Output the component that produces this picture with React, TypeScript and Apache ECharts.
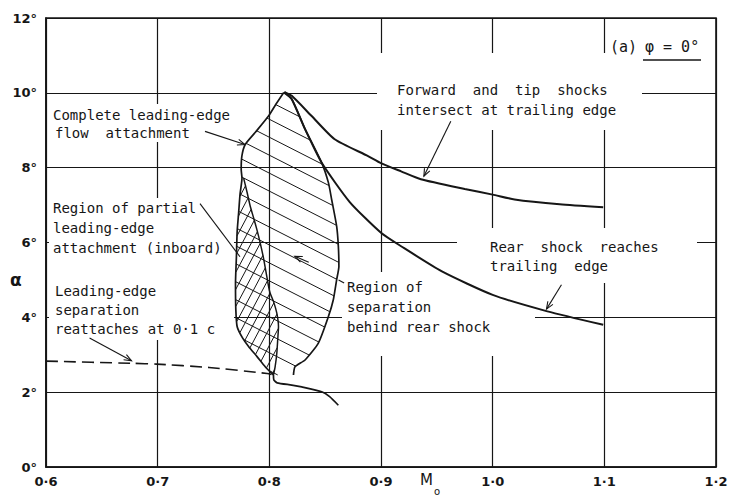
import React, { useEffect, useRef } from 'react';
import * as echarts from 'echarts';

// ---- data (M0, alpha in degrees) ----
const fwdShockX = [0.8135, 0.8201, 0.8379, 0.8585, 0.8884, 0.9, 0.918, 0.9357, 0.975, 1.0, 1.0196, 1.06, 1.099];
const fwdShockY = [10.02, 9.92, 9.38, 8.76, 8.31, 8.12, 7.9, 7.69, 7.43, 7.28, 7.15, 7.02, 6.94];

const rearShockX = [0.8135, 0.8201, 0.832, 0.8469, 0.872, 0.9, 0.918, 0.955, 1.0, 1.049, 1.099];
const rearShockY = [10.02, 9.83, 9.03, 8.13, 7.08, 6.26, 5.9, 5.22, 4.6, 4.16, 3.8];

const leftBoundX = [0.8129, 0.806, 0.7993, 0.7873, 0.7784, 0.7754, 0.7748, 0.7755, 0.7738, 0.7725, 0.7712, 0.7705, 0.7697, 0.77, 0.7712, 0.776, 0.7814, 0.789, 0.7963, 0.8037];
const leftBoundY = [10.01, 9.7, 9.38, 8.94, 8.62, 8.31, 7.95, 7.72, 7.3, 6.79, 6.3, 5.6, 4.9, 4.2, 3.75, 3.45, 3.22, 2.95, 2.68, 2.46];

const rightBoundX = [0.8129, 0.8201, 0.832, 0.8469, 0.8529, 0.8558, 0.8603, 0.8618, 0.8623, 0.8603, 0.8573, 0.8529, 0.8439, 0.832, 0.823, 0.8216];
const rightBoundY = [10.01, 9.83, 9.03, 8.13, 7.6, 7.15, 6.43, 5.9, 5.36, 5.01, 4.47, 4.02, 3.31, 2.86, 2.68, 2.46];

const crossRightX = [0.777, 0.78, 0.7829, 0.786, 0.7888, 0.7918, 0.795, 0.7993, 0.8007, 0.804, 0.8067, 0.8082, 0.8075, 0.8067, 0.8052, 0.8037];
const crossRightY = [7.72, 7.35, 6.97, 6.65, 6.35, 5.99, 5.55, 4.83, 4.65, 4.4, 4.11, 3.75, 3.4, 3.04, 2.68, 2.46];

const reattachX = [0.6, 0.678, 0.699, 0.746, 0.798, 0.802];
const reattachY = [2.83, 2.77, 2.75, 2.66, 2.5, 2.47];

const tailX = [0.8037, 0.804, 0.807, 0.8201, 0.829, 0.8469, 0.854, 0.8618];
const tailY = [2.46, 2.33, 2.25, 2.19, 2.14, 2.01, 1.88, 1.65];

// leader arrows (data coordinates)
const arrows = [
  { from: [0.7424, 8.97], to: [0.7781, 8.62], head: true },
  { from: [0.7379, 7.04], to: [0.7737, 5.62], head: false },
  { from: [0.9625, 9.24], to: [0.9384, 7.77], head: true },
  { from: [1.0616, 4.87], to: [1.0482, 4.22], head: true },
  { from: [0.639, 3.45], to: [0.6766, 2.84], head: true },
  { from: [0.8353, 5.47], to: [0.8228, 5.63], head: true },
  { from: [0.862, 5.0], to: [0.867, 4.92], head: false },
];

const pts = (xs: number[], ys: number[]) => xs.map((x, i) => [x, ys[i]]);

function hatch(poly: number[][], angleDeg: number, spacing: number) {
  const a = (angleDeg * Math.PI) / 180;
  const d = [Math.cos(a), Math.sin(a)];
  const n = [-Math.sin(a), Math.cos(a)];
  const proj = poly.map((p) => p[0] * n[0] + p[1] * n[1]);
  const mn = Math.min(...proj);
  const mx = Math.max(...proj);
  const segs: number[][][] = [];
  for (let c = Math.ceil(mn / spacing) * spacing; c <= mx; c += spacing) {
    const hits: number[][] = [];
    for (let i = 0; i < poly.length; i++) {
      const j = (i + 1) % poly.length;
      const pa = proj[i] - c;
      const pb = proj[j] - c;
      if ((pa < 0 && pb >= 0) || (pa >= 0 && pb < 0)) {
        const t = pa / (pa - pb);
        const x = poly[i][0] + t * (poly[j][0] - poly[i][0]);
        const y = poly[i][1] + t * (poly[j][1] - poly[i][1]);
        hits.push([x, y, x * d[0] + y * d[1]]);
      }
    }
    hits.sort((p, q) => p[2] - q[2]);
    for (let k = 0; k + 1 < hits.length; k += 2) segs.push([hits[k], hits[k + 1]]);
  }
  return segs;
}

const mainPoly = [...pts(leftBoundX, leftBoundY), ...pts(rightBoundX, rightBoundY).reverse().slice(0, -1)];
const crossPoly = [
  ...pts(leftBoundX, leftBoundY).filter((p) => p[1] <= 7.75),
  ...pts(crossRightX, crossRightY).reverse(),
];

const INK = '#161616';

const hatchSeries = (poly: number[][], angle: number, spacing: number) => ({
  type: 'custom',
  coordinateSystem: 'cartesian2d',
  silent: true,
  z: 3,
  data: [[0.8, 5]],
  renderItem: (_params: any, api: any) => {
    const pp = poly.map((p) => api.coord(p));
    const segs = hatch(pp, angle, spacing);
    return {
      type: 'group',
      children: segs.map((s) => ({
        type: 'line',
        shape: { x1: s[0][0], y1: s[0][1], x2: s[1][0], y2: s[1][1] },
        style: { stroke: INK, lineWidth: 1 },
      })),
    };
  },
});

const lineSeries = (xs: number[], ys: number[], width: number, dashed = false) => ({
  type: 'line',
  data: pts(xs, ys),
  symbol: 'none',
  smooth: 0.2,
  silent: true,
  z: 4,
  lineStyle: { color: INK, width, type: dashed ? [12, 6] : 'solid' },
});

const FONT = 'DejaVu Sans Mono';
const txt = (t: string, x: number, y: number, size = 14) => ({
  type: 'text',
  x,
  y,
  z: 10,
  style: {
    text: t,
    fontSize: size,
    fontFamily: FONT,
    fill: INK,
    verticalAlign: 'middle',
    textVerticalAlign: 'middle',
  },
});
const whiteRect = (x: number, y: number, w: number, h: number) => ({
  type: 'rect',
  z: 1,
  shape: { x, y, width: w, height: h },
  style: { fill: '#ffffff' },
});

const option: any = {
  animation: false,
  backgroundColor: '#ffffff',
  grid: { left: 46, right: 24, top: 18, bottom: 33, show: true, borderColor: INK, borderWidth: 1.6 },
  xAxis: {
    type: 'value',
    min: 0.6,
    max: 1.2,
    interval: 0.1,
    axisLine: { show: true, lineStyle: { color: INK, width: 1.6 } },
    axisTick: { show: false },
    splitLine: { show: true, lineStyle: { color: INK, width: 1.2 } },
    axisLabel: {
      formatter: (v: number) => v.toFixed(1).replace('.', '·'),
      fontSize: 13,
      fontWeight: 'bold',
      fontFamily: 'DejaVu Sans',
      color: INK,
      margin: 8,
    },
  },
  yAxis: {
    type: 'value',
    min: 0,
    max: 12,
    interval: 2,
    axisLine: { show: true, lineStyle: { color: INK, width: 1.6 } },
    axisTick: { show: false },
    splitLine: { show: true, lineStyle: { color: INK, width: 1.2 } },
    axisLabel: {
      formatter: (v: number) => `${v}°`,
      fontSize: 13,
      fontWeight: 'bold',
      fontFamily: 'DejaVu Sans',
      color: INK,
      margin: 9,
    },
  },
  graphic: [
    whiteRect(49, 104, 188, 38),
    whiteRect(49, 198, 185, 142),
    whiteRect(342, 272, 193, 84),
    whiteRect(377, 53, 265, 77),
    whiteRect(457, 228, 240, 55),
    whiteRect(606, 36, 98, 28),
    txt('Complete leading-edge', 53, 115),
    txt('flow  attachment', 55, 133),
    txt('Region of partial', 53, 208),
    txt('leading-edge', 53, 228),
    txt('attachment (inboard)', 53, 248),
    txt('Leading-edge', 55, 291),
    txt('separation', 55, 310),
    txt('reattaches at 0·1 c', 55, 329),
    txt('Region of', 347, 287),
    txt('separation', 347, 307),
    txt('behind rear shock', 347, 327),
    txt('Forward  and  tip  shocks', 397, 90),
    txt('intersect at trailing edge', 397, 110),
    txt('Rear  shock  reaches', 490, 247),
    txt('trailing  edge', 490, 266),
    txt('(a)', 610, 47, 15),
    txt('φ = 0°', 645, 47, 15),
    {
      type: 'line',
      z: 10,
      shape: { x1: 643, y1: 60, x2: 701, y2: 60 },
      style: { stroke: INK, lineWidth: 1.5 },
    },
    {
      type: 'text',
      x: 10,
      y: 280,
      z: 10,
      style: { text: 'α', fontSize: 17, fontFamily: 'DejaVu Sans', fontWeight: 'bold', fill: INK, verticalAlign: 'middle', textVerticalAlign: 'middle' },
    },
    {
      type: 'text',
      x: 420,
      y: 480,
      z: 10,
      style: { text: 'M', fontSize: 15, fontFamily: 'DejaVu Sans', fill: INK, verticalAlign: 'middle', textVerticalAlign: 'middle' },
    },
    {
      type: 'text',
      x: 434,
      y: 491,
      z: 10,
      style: { text: 'o', fontSize: 10, fontFamily: 'DejaVu Sans', fill: INK, verticalAlign: 'middle', textVerticalAlign: 'middle' },
    },
  ],
  series: [
    hatchSeries(mainPoly, 27, 16),
    hatchSeries(crossPoly, -62, 8),
    lineSeries(leftBoundX, leftBoundY, 1.7),
    lineSeries(rightBoundX, rightBoundY, 1.7),
    lineSeries(crossRightX, crossRightY, 1.5),
    lineSeries(fwdShockX, fwdShockY, 2),
    lineSeries(rearShockX, rearShockY, 2),
    lineSeries(reattachX, reattachY, 1.6, true),
    lineSeries(tailX, tailY, 1.7),
    {
      type: 'custom',
      coordinateSystem: 'cartesian2d',
      silent: true,
      z: 5,
      data: arrows.map((a) => [a.from[0], a.from[1]]),
      renderItem: (params: any, api: any) => {
        const a = arrows[params.dataIndex];
        const p0 = api.coord(a.from);
        const p1 = api.coord(a.to);
        const children: any[] = [
          { type: 'line', shape: { x1: p0[0], y1: p0[1], x2: p1[0], y2: p1[1] }, style: { stroke: INK, lineWidth: 1.1 } },
        ];
        if (a.head) {
          const ang = Math.atan2(p1[1] - p0[1], p1[0] - p0[0]);
          const L = 8;
          const w = 0.38;
          children.push({
            type: 'polyline',
            shape: {
              points: [
                [p1[0] - L * Math.cos(ang - w), p1[1] - L * Math.sin(ang - w)],
                [p1[0], p1[1]],
                [p1[0] - L * Math.cos(ang + w), p1[1] - L * Math.sin(ang + w)],
              ],
            },
            style: { stroke: INK, fill: 'none', lineWidth: 1.1 },
          });
        }
        return { type: 'group', children };
      },
    },
  ],
};

export default function App() {
  const ref = useRef<HTMLDivElement>(null);
  useEffect(() => {
    document.body.style.margin = '0';
    const chart = echarts.init(ref.current as HTMLDivElement, null, { renderer: 'svg' });
    chart.setOption(option);
    return () => chart.dispose();
  }, []);
  return <div ref={ref} style={{ position: 'absolute', left: 0, top: 0, width: 740, height: 500 }} />;
}
